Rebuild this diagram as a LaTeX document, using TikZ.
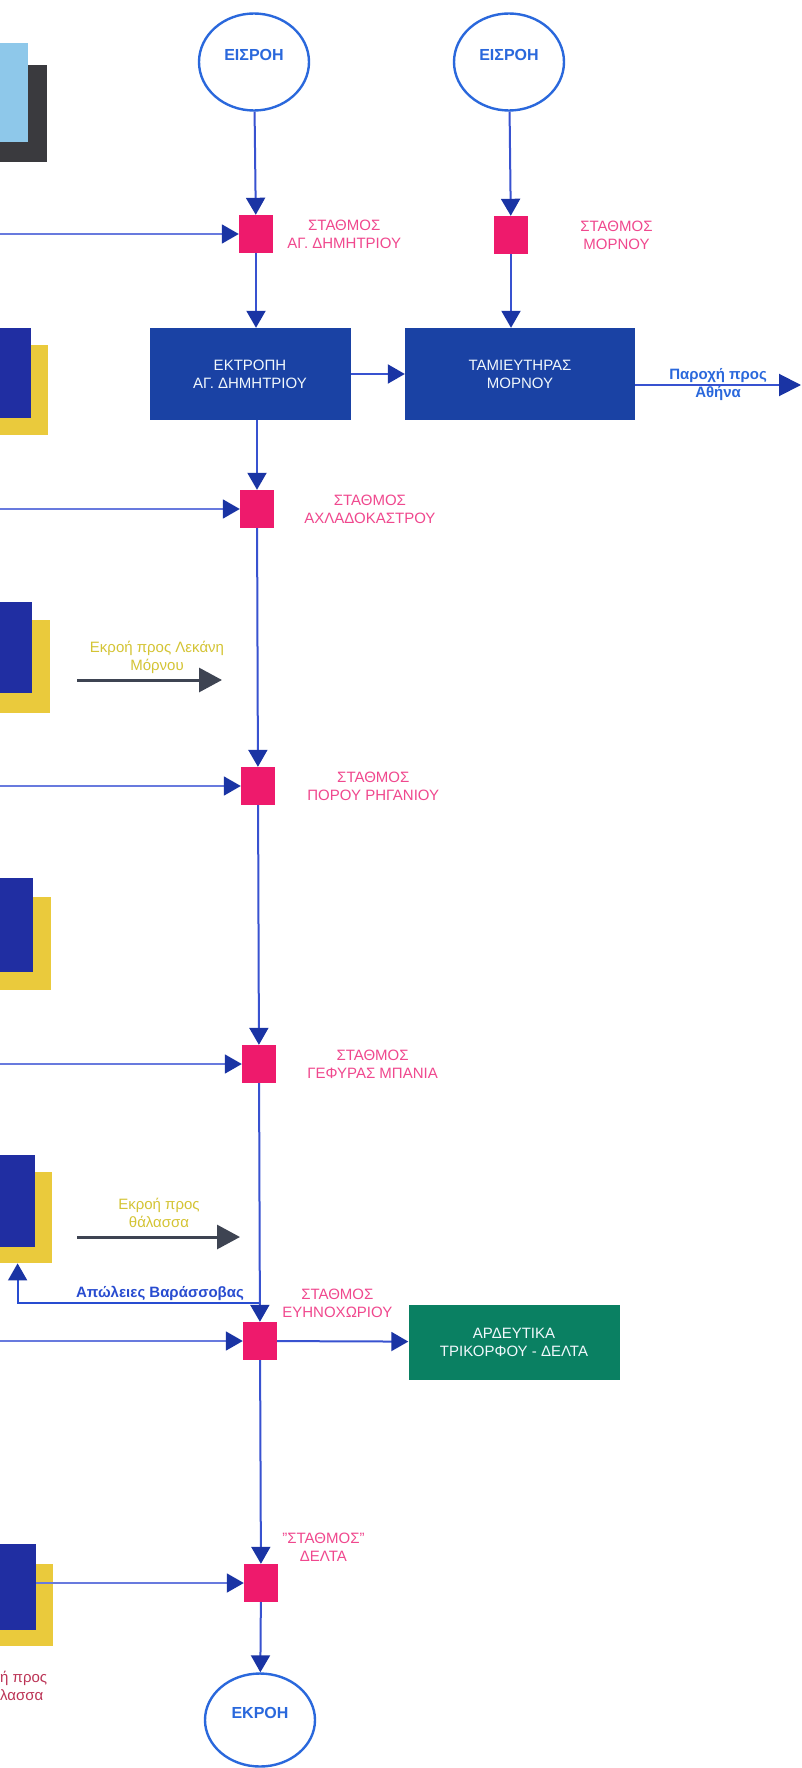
\documentclass[tikz,border=0pt]{standalone}
\usepackage{fontspec}
\setmainfont{Liberation Sans}
\usepackage{tikz}
\usetikzlibrary{arrows.meta,positioning,calc,shapes.geometric}
\usepackage{xcolor}
\definecolor{evflow}{RGB}{56,82,208}
\definecolor{evtip}{RGB}{26,52,164}
\definecolor{evside}{RGB}{104,122,222}
\definecolor{evring}{RGB}{42,104,220}
\definecolor{evpink}{RGB}{238,26,108}
\definecolor{evpinktxt}{RGB}{240,72,142}
\definecolor{evworks}{RGB}{26,66,164}
\definecolor{evleft}{RGB}{32,46,162}
\definecolor{evyellow}{RGB}{234,202,60}
\definecolor{evsky}{RGB}{142,200,234}
\definecolor{evdark}{RGB}{58,58,62}
\definecolor{evgreen}{RGB}{10,128,98}
\definecolor{evgrey}{RGB}{62,68,82}
\definecolor{evolive}{RGB}{212,196,52}
\definecolor{evcrimson}{RGB}{188,52,86}
\definecolor{evloss}{RGB}{40,76,208}

\begin{document}
\begin{tikzpicture}[x=1pt, y=-1pt, font=\fontsize{15}{18}\selectfont,
  >={Triangle[length=17pt, width=19pt, color=evtip]},
  inflowring/.style={draw=evring, line width=2.4pt, ellipse, minimum width=110pt,
    minimum height=97pt, inner sep=0pt, text=evring, text height=11.5pt,
    text depth=14pt, font=\fontsize{16}{19}\selectfont\bfseries},
  station/.style={fill=evpink, minimum width=34pt, minimum height=38pt, inner sep=0pt},
  stlabel/.style={text=evpinktxt, align=center, inner sep=0pt},
  works/.style={fill=evworks, text=white!88!evsky, align=center,
    minimum height=92pt, inner sep=0pt},
  sidebox/.style={fill=evleft, anchor=north east, inner sep=0pt},
  sideshade/.style={fill=evyellow, anchor=north east, inner sep=0pt},
  mainflow/.style={->, draw=evflow, line width=2pt},
  sideflow/.style={->, draw=evside, line width=1.8pt},
  spillarrow/.style={-{Triangle[length=23pt, width=24pt, color=evgrey]},
    draw=evgrey, line width=3pt},
  spilltag/.style={text=evolive, align=center, inner sep=0pt}]
\useasboundingbox (0,0) rectangle (801,1768);
\fill[white] (0,0) rectangle (801,1768);

% cut-off boxes at the left edge
\node[sideshade, fill=evdark, minimum width=47pt, minimum height=97pt] (lbAsh) at (47,65) {};
\node[sidebox, fill=evsky, minimum width=28pt, minimum height=99pt] (lbA) at (28,43) {};
\node[sideshade, minimum width=48pt, minimum height=90pt] (lbBsh) at (48,345) {};
\node[sidebox, minimum width=31pt, minimum height=90pt] (lbB) at (31,328) {};
\node[sideshade, minimum width=50pt, minimum height=93pt] (lbCsh) at (50,620) {};
\node[sidebox, minimum width=32pt, minimum height=91pt] (lbC) at (32,602) {};
\node[sideshade, minimum width=51pt, minimum height=93pt] (lbDsh) at (51,897) {};
\node[sidebox, minimum width=33pt, minimum height=94pt] (lbD) at (33,878) {};
\node[sideshade, minimum width=52pt, minimum height=91pt] (lbEsh) at (52,1172) {};
\node[sidebox, minimum width=35pt, minimum height=92pt] (lbE) at (35,1155) {};
\node[sideshade, minimum width=53pt, minimum height=82pt] (lbFsh) at (53,1564) {};
\node[sidebox, minimum width=36pt, minimum height=86pt] (lbF) at (36,1544) {};

% main line
\node[inflowring] (in1) at (254,62) {ΕΙΣΡΟΗ};
\node[inflowring] (in2) at (509,62) {ΕΙΣΡΟΗ};
\node[station] (st1) at (256,234) {};
\node[station] (st2) at (511,235) {};
\node[works, minimum width=201pt] (ektropi) at (250,374) {ΕΚΤΡΟΠΗ\\ΑΓ. ΔΗΜΗΤΡΙΟΥ};
\node[works, minimum width=230pt] (tamieftiras) at (520,374) {ΤΑΜΙΕΥΤΗΡΑΣ\\ΜΟΡΝΟΥ};
\node[station] (st3) at (257,509) {};
\node[station] (st4) at (258,786) {};
\node[station] (st5) at (259,1064) {};
\node[station] (st6) at (260,1341) {};
\node[station] (st7) at (261,1583) {};
\node[inflowring, minimum height=93pt] (out) at (260,1720) {ΕΚΡΟΗ};
\node[works, fill=evgreen, minimum width=211pt, minimum height=75pt] (irrig) at (514,1342)
  {ΑΡΔΕΥΤΙΚΑ\\ΤΡΙΚΟΡΦΟΥ - ΔΕΛΤΑ};

\node[stlabel, right=14pt of st1] (st1lab) {ΣΤΑΘΜΟΣ\\ΑΓ. ΔΗΜΗΤΡΙΟΥ};
\node[stlabel, right=52pt of st2] (st2lab) {ΣΤΑΘΜΟΣ\\ΜΟΡΝΟΥ};
\node[stlabel, right=30pt of st3] (st3lab) {ΣΤΑΘΜΟΣ\\ΑΧΛΑΔΟΚΑΣΤΡΟΥ};
\node[stlabel, right=32pt of st4] (st4lab) {ΣΤΑΘΜΟΣ\\ΠΟΡΟΥ ΡΗΓΑΝΙΟΥ};
\node[stlabel, right=31pt of st5] (st5lab) {ΣΤΑΘΜΟΣ\\ΓΕΦΥΡΑΣ ΜΠΑΝΙΑ};
\node[stlabel, above right=4pt and 5pt of st6] (st6lab) {ΣΤΑΘΜΟΣ\\ΕΥΗΝΟΧΩΡΙΟΥ};
\node[stlabel, above right=2pt and 4pt of st7] (st7lab) {"ΣΤΑΘΜΟΣ"\\ΔΕΛΤΑ};

\draw[mainflow] (in1) -- (st1);
\draw[mainflow] (in2) -- (st2);
\draw[mainflow] (st1) -- (st1 |- ektropi.north);
\draw[mainflow] (st2) -- (st2 |- tamieftiras.north);
\draw[mainflow] (ektropi) -- (tamieftiras);
\coordinate (athens) at (801,385);
\draw[mainflow, -{Triangle[length=22pt, width=22pt, color=evtip]}]
  (tamieftiras.east |- athens) -- (athens);
\node[text=evring, align=center, inner sep=0pt, font=\fontsize{15}{18}\selectfont\bfseries]
  (athlab) at ($(tamieftiras.east |- athens)!0.5!(athens)$) {Παροχή προς\\Αθήνα};
\draw[mainflow] (ektropi.south -| st3) -- (st3);
\draw[mainflow] (st3) -- (st4);
\draw[mainflow] (st4) -- (st5);
\draw[mainflow] (st5) -- (st6);
\draw[mainflow] (st6) -- (st7);
\draw[mainflow] (st7) -- (out);
\draw[mainflow] (st6) -- (irrig);

% side inflows
\coordinate (w1) at (0,234);
\coordinate (w3) at (0,509);
\coordinate (w4) at (0,786);
\coordinate (w5) at (0,1064);
\coordinate (w6) at (0,1341);
\draw[sideflow] (w1) -- (st1);
\draw[sideflow] (w3) -- (st3);
\draw[sideflow] (w4) -- (st4);
\draw[sideflow] (w5) -- (st5);
\draw[sideflow] (w6) -- (st6);
\draw[sideflow] (lbF.east |- st7) -- (st7);

% losses back to the left
\coordinate (varsplit) at (259,1303);
\draw[sideflow, draw=evloss] (varsplit) -| ($(lbEsh.south west)+(18,0)$);
\node[text=evloss, inner sep=0pt, font=\fontsize{15}{18}\selectfont\bfseries]
  (losslab) at (160,1293) {Απώλειες Βαράσσοβας};

% spills
\coordinate (morfrom) at (77,680);
\coordinate (morto) at (222,680);
\draw[spillarrow] (morfrom) -- (morto);
\node[spilltag] (morlab) at (157,657) {Εκροή προς Λεκάνη\\Μόρνου};
\coordinate (seafrom) at (77,1237);
\coordinate (seato) at (240,1237);
\draw[spillarrow] (seafrom) -- (seato);
\node[spilltag] (sealab) at (159,1213) {Εκροή προς\\θάλασσα};
\node[text=evcrimson, align=left, anchor=west, inner sep=0pt] (seacut) at (0,1686) {ή προς\\λασσα};
\end{tikzpicture}
\end{document}
